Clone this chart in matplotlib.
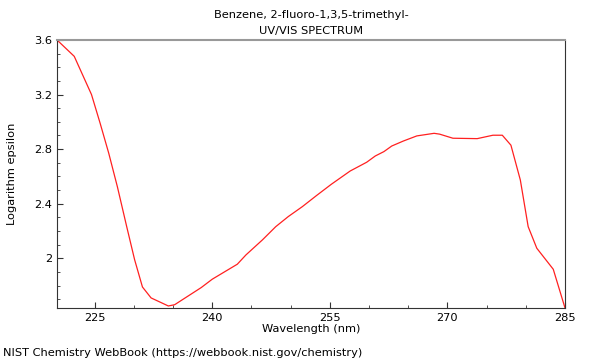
import matplotlib
matplotlib.use('Agg')
import matplotlib.pyplot as plt
from matplotlib.ticker import MultipleLocator

wavelength = [220.2, 222.4, 224.6, 225.7, 226.8, 227.9, 229.1, 230.1, 231.1, 232.2,
              234.4, 235.2, 238.6, 240.0, 243.2, 244.3, 246.4, 248.1, 249.7, 251.5,
              253.3, 255.2, 257.6, 259.7, 260.8, 261.9, 262.9, 264.4, 266.1, 268.3,
              269.0, 270.7, 273.8, 275.8, 277.0, 278.1, 279.3, 280.3, 281.4, 283.5, 285.0]
log_eps = [3.60, 3.48, 3.20, 2.99, 2.77, 2.525, 2.23, 1.99, 1.79, 1.71,
           1.651, 1.66, 1.786, 1.847, 1.957, 2.025, 2.135, 2.232, 2.306, 2.379,
           2.46, 2.543, 2.64, 2.704, 2.75, 2.782, 2.823, 2.86, 2.897, 2.916,
           2.91, 2.88, 2.877, 2.902, 2.902, 2.829, 2.574, 2.232, 2.074, 1.92, 1.636]

fs = 8.2

fig = plt.figure(figsize=(6, 3.6), dpi=100)
ax = fig.add_axes([0.095, 0.1444, 0.8467, 0.7446])

ax.plot(wavelength, log_eps, color='#ff2020', lw=0.9)
ax.set_xlim(220.2, 285.0)
ax.set_ylim(1.636, 3.6)

ax.xaxis.set_major_locator(MultipleLocator(15))
ax.xaxis.set_minor_locator(MultipleLocator(5))
ax.yaxis.set_minor_locator(MultipleLocator(0.1))
ax.set_yticks([2, 2.4, 2.8, 3.2, 3.6])
ax.set_yticklabels(['2', '2.4', '2.8', '3.2', '3.6'])

ax.tick_params(which='both', direction='in', labelsize=fs, color='#333333')
ax.tick_params(which='major', length=4)
ax.tick_params(which='minor', length=2.5)

ax.spines['top'].set_color('#999999')
ax.spines['top'].set_linewidth(1.5)
for s in ['left', 'bottom', 'right']:
    ax.spines[s].set_color('#333333')
    ax.spines[s].set_linewidth(0.8)

ax.set_xlabel('Wavelength (nm)', fontsize=fs, labelpad=0.5)
ax.set_ylabel('Logarithm epsilon', fontsize=fs, labelpad=12)
ax.set_title('Benzene, 2-fluoro-1,3,5-trimethyl-\nUV/VIS SPECTRUM', fontsize=fs,
             pad=4, linespacing=1.75)

fig.text(0.005, 0.01, 'NIST Chemistry WebBook (https://webbook.nist.gov/chemistry)', fontsize=fs)

fig.savefig('out.png', dpi=100)
